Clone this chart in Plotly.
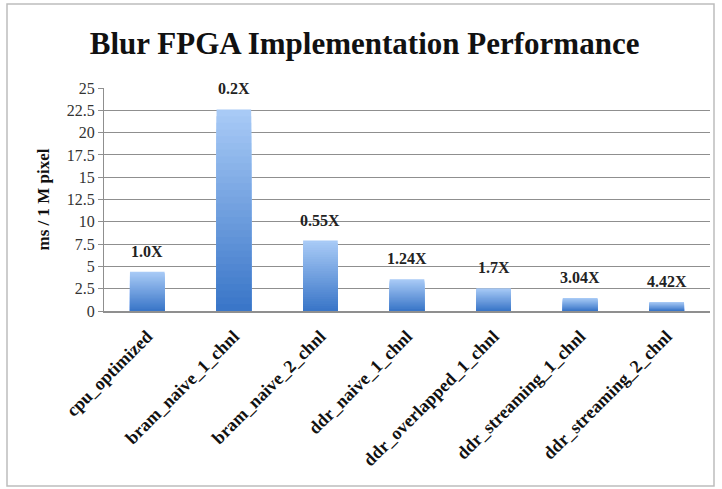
import plotly.graph_objects as go

categories = ["cpu_optimized", "bram_naive_1_chnl", "bram_naive_2_chnl", "ddr_naive_1_chnl",
              "ddr_overlapped_1_chnl", "ddr_streaming_1_chnl", "ddr_streaming_2_chnl"]
values = [4.4, 22.6, 7.9, 3.55, 2.55, 1.45, 1.0]
speedups = ["1.0X", "0.2X", "0.55X", "1.24X", "1.7X", "3.04X", "4.42X"]
y_ticks = [0, 2.5, 5, 7.5, 10, 12.5, 15, 17.5, 20, 22.5, 25]

W, H = 722, 489
L, R, T, B = 104, 12, 88, 178

top_rgb = (168, 202, 246)
bot_rgb = (58, 118, 200)
N = 30

fig = go.Figure()
for k in range(N):
    frac = 1 - k / N
    t = k / (N - 1)
    c = tuple(round(top_rgb[i] + (bot_rgb[i] - top_rgb[i]) * t) for i in range(3))
    fig.add_trace(go.Bar(
        x=categories, y=[v * frac for v in values],
        marker=dict(color="rgb(%d,%d,%d)" % c, line=dict(width=0)),
        width=0.4, hoverinfo="skip", showlegend=False,
    ))

for cat, v, s in zip(categories, values, speedups):
    fig.add_annotation(x=cat, y=v, text="<b>%s</b>" % s, showarrow=False,
                       yanchor="bottom", yshift=10,
                       font=dict(family="Liberation Serif", size=16, color="#222"))

pw = W - L - R
ph = H - T - B
def px_x(p):
    return (p - L) / pw
def px_y(p):
    return (H - B - p) / ph

fig.add_shape(type="rect", xref="paper", yref="paper",
              x0=px_x(7), x1=px_x(714), y0=px_y(4), y1=px_y(486),
              line=dict(color="#bdbdbd", width=1.5), layer="below")

fig.update_layout(
    width=W, height=H, barmode="overlay", bargap=0.6,
    margin=dict(l=L, r=R, t=T, b=B),
    paper_bgcolor="white", plot_bgcolor="white",
    title=dict(text="<b>Blur FPGA Implementation Performance</b>", x=0.505, xref="container",
               xanchor="center", y=1 - 43 / H, yanchor="middle",
               font=dict(family="Liberation Serif", size=31, color="#111")),
    font=dict(family="Liberation Serif"),
)
fig.update_yaxes(range=[0, 25], tickvals=y_ticks, ticktext=[str(v) for v in y_ticks],
                 showgrid=True, gridcolor="#8f8f8f", gridwidth=1,
                 showline=True, linecolor="#8f8f8f", linewidth=1,
                 ticks="outside", ticklen=5, tickcolor="#8f8f8f",
                 tickfont=dict(family="Liberation Serif", size=16, color="#333"),
                 title=dict(text="<b>ms / 1 M pixel</b>", standoff=12,
                            font=dict(family="Liberation Serif", size=17, color="#111")),
                 zeroline=False)
fig.update_xaxes(showline=True, linecolor="#8f8f8f", linewidth=1.5,
                 tickangle=-45, ticks="", ticklabelstandoff=6,
                 tickfont=dict(family="Liberation Serif", size=18, color="#111"),
                 tickvals=categories, ticktext=["<b>%s</b>" % c for c in categories])

fig.write_html("out.html")
